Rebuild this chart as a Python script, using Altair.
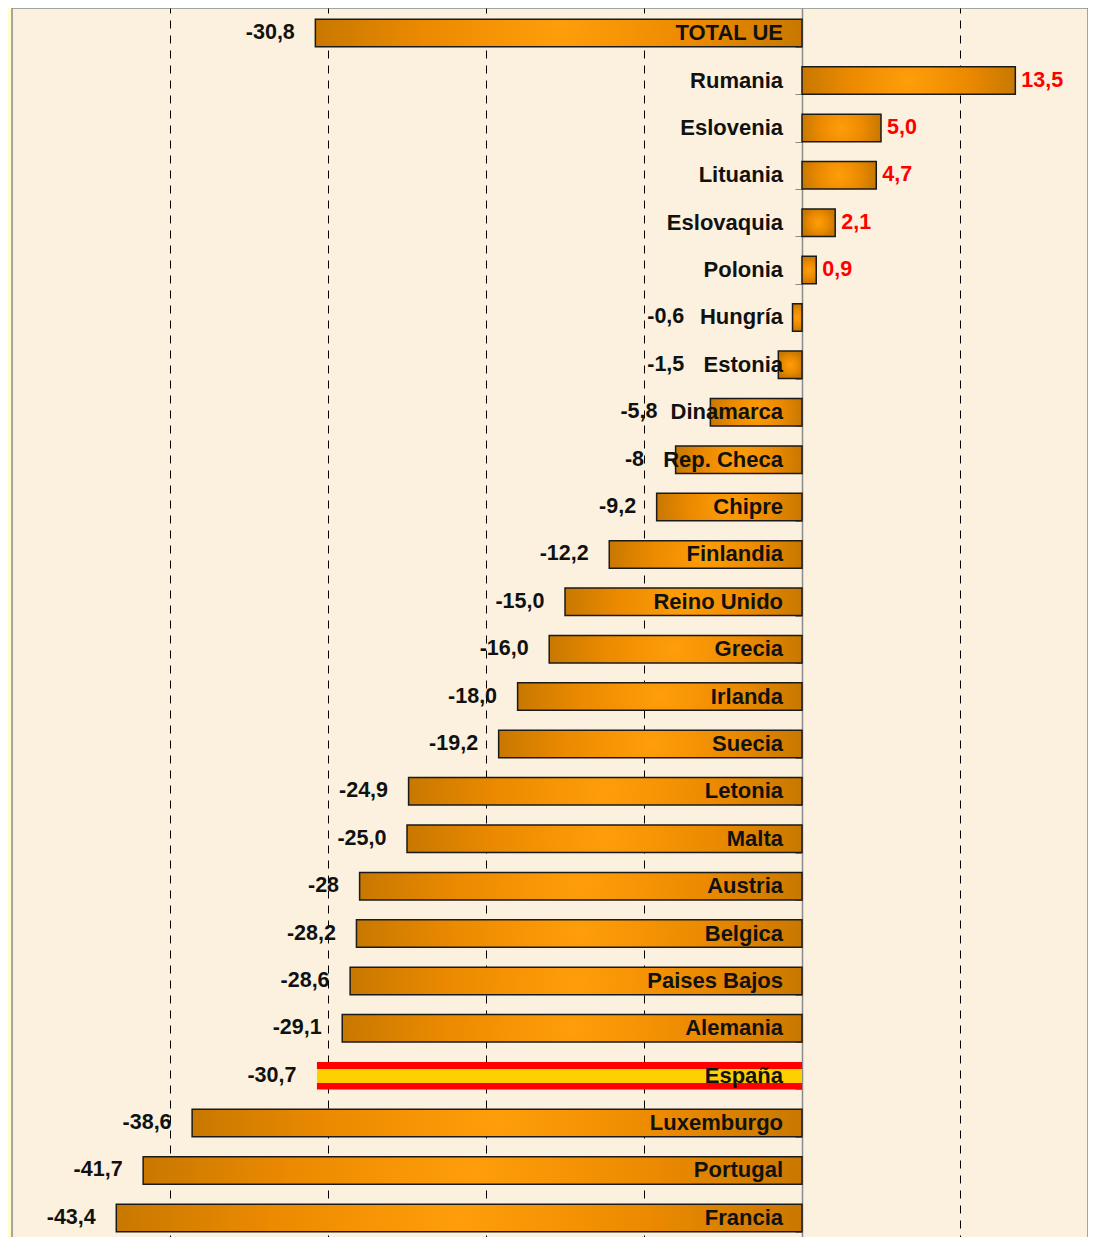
import altair as alt
import pandas as pd

names = ["TOTAL UE", "Rumania", "Eslovenia", "Lituania", "Eslovaquia", "Polonia",
         "Hungría", "Estonia", "Dinamarca", "Rep. Checa", "Chipre", "Finlandia",
         "Reino Unido", "Grecia", "Irlanda", "Suecia", "Letonia", "Malta", "Austria",
         "Belgica", "Paises Bajos", "Alemania", "España", "Luxemburgo", "Portugal", "Francia"]
values = [-30.8, 13.5, 5.0, 4.7, 2.1, 0.9, -0.6, -1.5, -5.8, -8.0, -9.2, -12.2,
          -15.0, -16.0, -18.0, -19.2, -24.9, -25.0, -28.0, -28.2, -28.6, -29.1,
          -30.7, -38.6, -41.7, -43.4]
labels = ["-30,8", "13,5", "5,0", "4,7", "2,1", "0,9", "-0,6", "-1,5", "-5,8", "-8",
          "-9,2", "-12,2", "-15,0", "-16,0", "-18,0", "-19,2", "-24,9", "-25,0",
          "-28", "-28,2", "-28,6", "-29,1", "-30,7", "-38,6", "-41,7", "-43,4"]
highlight = "España"
grid_values = [-40, -30, -20, -10, 10]

df = pd.DataFrame({"name": names, "value": values, "label": labels})

FONT = "Liberation Sans"

xscale = alt.Scale(domain=[-50, 18.1], nice=False, zero=False)
yscale = alt.Scale(paddingInner=0.42, paddingOuter=0.24)

x_enc = alt.X("value:Q", scale=xscale,
              axis=alt.Axis(labels=False, ticks=False, domain=False, title=None,
                            grid=True, values=grid_values, gridColor="#000000",
                            gridDash=[8, 7], gridWidth=1))
y_enc = alt.Y("name:N", sort=names, scale=yscale,
              axis=alt.Axis(labels=False, title=None, orient="left", offset=-790,
                            domainColor="#8a8a8a", domainWidth=1.5, tickColor="#8a8a8a",
                            tickSize=7, tickBand="extent", grid=False))

base = alt.Chart(df)

bar_grad = {
    "gradient": "radial",
    "x1": 0.5, "y1": 0.5, "r1": 0,
    "x2": 0.5, "y2": 0.5, "r2": 0.5,
    "stops": [
        {"offset": 0, "color": "#FF9E0A"},
        {"offset": 0.55, "color": "#EC8A00"},
        {"offset": 1, "color": "#C87800"},
    ],
}
flag_grad = {
    "gradient": "linear",
    "x1": 0, "y1": 0, "x2": 0, "y2": 1,
    "stops": [
        {"offset": 0, "color": "#FF0000"},
        {"offset": 0.25, "color": "#FF0000"},
        {"offset": 0.25, "color": "#FFD000"},
        {"offset": 0.75, "color": "#FFD000"},
        {"offset": 0.75, "color": "#FF0000"},
        {"offset": 1, "color": "#FF0000"},
    ],
}

bars = base.transform_filter(alt.datum.name != highlight).mark_bar(
    color=bar_grad, stroke="#1a1a1a", strokeWidth=1.5
).encode(x=x_enc, x2=alt.datum(0), y=y_enc)

flag = base.transform_filter(alt.datum.name == highlight).mark_bar(
    color=flag_grad, strokeWidth=0
).encode(x="value:Q", x2=alt.datum(0), y=alt.Y("name:N", sort=names))

name_text = base.mark_text(
    align="right", baseline="middle", dx=-19, font=FONT, fontWeight="bold",
    fontSize=22, color="#111111"
).encode(x=alt.datum(0), y=alt.Y("name:N", sort=names), text="name:N")

neg_text = base.transform_filter(alt.datum.value < 0).transform_calculate(
    pos="min(datum.value - 1.3, -(length(datum.name) * 0.85 + 1.5))"
).mark_text(
    align="right", baseline="middle", font=FONT, fontWeight="bold",
    fontSize=21.5, color="#111111"
).encode(x="pos:Q", y=alt.Y("name:N", sort=names), text="label:N")

pos_text = base.transform_filter(alt.datum.value >= 0).mark_text(
    align="left", baseline="middle", dx=6, font=FONT, fontWeight="bold",
    fontSize=21.5, color="#FF0000"
).encode(x="value:Q", y=alt.Y("name:N", sort=names), text="label:N")

chart = alt.layer(bars, flag, name_text, neg_text, pos_text).properties(
    width=1076, height=1235,
    padding={"left": 4, "top": 0, "right": 0, "bottom": 0},
    background="#FFFFCC",
).configure_view(
    fill="#FBF1DE", stroke="#8a8a8a", strokeWidth=1.5
)

chart.save("out.html", embed_options={"renderer": "svg", "actions": False})
